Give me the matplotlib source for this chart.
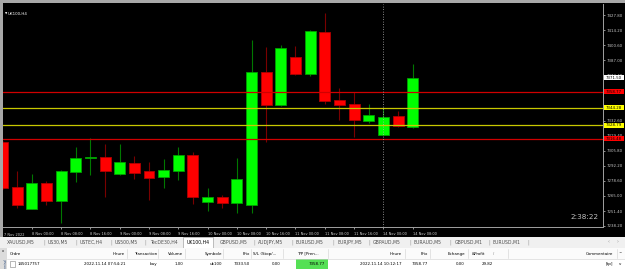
import numpy as np
import matplotlib
matplotlib.use("Agg")
import matplotlib.pyplot as plt
from matplotlib.patches import Rectangle

W, H = 625, 269

# UK100 H4 bars, 7 Nov 16:00 -> 14 Nov 08:00
opens = [7313.9, 7273.1, 7253.6, 7276.7, 7260.5, 7286.6, 7299.6, 7300.1, 7285.1, 7294.7,
         7287.5, 7281.8, 7287.8, 7301.6, 7259.4, 7264.1, 7259.0, 7256.9, 7376.3, 7346.6,
         7389.8, 7375.0, 7412.8, 7351.6, 7347.8, 7332.7, 7319.9, 7337.0, 7327.1]
highs = [7314.6, 7287.5, 7285.1, 7278.5, 7288.3, 7308.8, 7317.2, 7312.1, 7311.8, 7301.3,
         7295.6, 7298.3, 7309.1, 7304.6, 7272.2, 7265.9, 7299.5, 7405.3, 7399.3, 7400.8,
         7400.2, 7414.3, 7429.3, 7362.4, 7358.6, 7348.0, 7344.4, 7341.2, 7384.0]
lows = [7271.0, 7254.5, 7253.0, 7256.9, 7241.0, 7277.6, 7284.2, 7264.4, 7284.2, 7280.3,
        7261.4, 7272.5, 7279.1, 7257.6, 7251.5, 7254.5, 7250.0, 7249.7, 7313.6, 7345.8,
        7373.6, 7373.2, 7347.5, 7333.6, 7318.1, 7330.4, 7319.5, 7327.1, 7326.5]
closes = [7272.5, 7256.9, 7276.7, 7260.3, 7287.5, 7299.5, 7300.0, 7287.8, 7295.3, 7286.0,
          7281.5, 7288.1, 7301.9, 7263.9, 7264.1, 7258.5, 7280.3, 7376.5, 7347.1, 7398.1,
          7375.0, 7413.4, 7350.7, 7346.9, 7333.6, 7337.6, 7336.3, 7327.7, 7371.5]

first_label = "7 Nov 2022"
xtick_bars = [2, 4, 6, 8, 10, 12, 14, 16, 18, 20, 22, 24, 26, 28]
xtick_labels = ["8 Nov 00:00", "8 Nov 08:00", "8 Nov 16:00", "9 Nov 00:00", "9 Nov 08:00",
                "9 Nov 16:00", "10 Nov 00:00", "10 Nov 08:00", "10 Nov 16:00", "11 Nov 00:00",
                "11 Nov 08:00", "11 Nov 16:00", "14 Nov 00:00", "14 Nov 08:00"]
# scale labels that are not hidden behind the price boxes
ytick_vals = [7427.80, 7414.20, 7400.60, 7387.00, 7373.40, 7332.60,
              7319.40, 7305.80, 7292.20, 7278.60, 7265.00, 7251.40, 7238.20]

red_levels = [7358.77, 7316.48]
yellow_levels = [7344.28, 7328.79]
current_price = 7371.50
vline_bar = 26

tabs = ["XAUUSD,M5", "US30,M5", "USTEC,H4", "US500,M5", "TecDE30,H4", "UK100,H4",
        "GBPUSD,M5", "AUDJPY,M5", "EURUSD,M5", "EURJPY,M5", "GBPAUD,M5", "EURAUD,M5",
        "GBPUSD,M1", "EURUSD,M1"]
headers = ["Ordre", "Heure", "Transaction", "Volume", "Symbole", "Prix", "S/L (Stop/...",
           "T/P [Pren...", "Heure", "Prix", "Echange", "&Profit", "Commentaire"]
row = ["145017757", "2022.11.14 07:54:21", "buy", "1.00", "uk100", "7333.50", "0.00",
       "7358.77", "2022.11.14 10:12:17", "7358.77", "0.00", "29.82", "[tp]"]


def fx(x):
    return x / W


def fy(y):
    return 1 - y / H


fig = plt.figure(figsize=(W / 100, H / 100), dpi=100, facecolor="black")

# chart
ax = fig.add_axes([fx(3), fy(227), 600 / W, 223 / H], facecolor="black")
o, h, l, c = map(np.array, (opens, highs, lows, closes))
idx = np.arange(len(o))
up = c >= o
dn = ~up
ax.vlines(idx[up], l[up], h[up], color="#007800", lw=0.8, zorder=2)
ax.vlines(idx[dn], l[dn], h[dn], color="#7a0000", lw=0.8, zorder=2)
ax.bar(idx[up], (c - o)[up], bottom=o[up], width=0.75, color="#00ff00",
       edgecolor="#00a000", lw=0.6, zorder=3)
ax.bar(idx[dn], (c - o)[dn], bottom=o[dn], width=0.75, color="#ff0000",
       edgecolor="#b00000", lw=0.6, zorder=3)

for lv in red_levels:
    ax.axhline(lv, color="#d00000", lw=0.9, zorder=4)
for lv in yellow_levels:
    ax.axhline(lv, color="#c8c800", lw=0.9, zorder=4)
ax.axvline(vline_bar, color="#b0b0b0", lw=0.6, ls=(0, (1, 2)), zorder=4)

ax.set_xlim(0.034, 40.99)
ax.set_ylim(7237.1, 7437.7)

for s in ["left", "top"]:
    ax.spines[s].set_visible(False)
for s in ["right", "bottom"]:
    ax.spines[s].set_color("#a0a0a0")
    ax.spines[s].set_linewidth(0.7)

ax.yaxis.tick_right()
ax.set_yticks(ytick_vals)
ax.set_yticklabels([f"{v:.2f}" for v in ytick_vals])
ax.tick_params(axis="y", labelsize=2.8, colors="#c8c8c8", length=1.5, width=0.5, pad=0.8)
ax.set_xticks(xtick_bars)
ax.set_xticklabels(xtick_labels)
ax.tick_params(axis="x", labelsize=2.5, colors="#d0d0d0", length=1.5, width=0.5, pad=1.8)
for lab in ax.get_xticklabels():
    lab.set_horizontalalignment("left")
ax.text(0.002, -0.025, first_label, transform=ax.transAxes, fontsize=2.5,
        color="#d0d0d0", ha="left", va="top")

# price boxes on the right scale
ytr = ax.get_yaxis_transform()
boxes = [(current_price, "white")] + [(v, "#ff0000") for v in red_levels] + \
        [(v, "#ffff00") for v in yellow_levels]
for price, col in boxes:
    ax.add_patch(Rectangle((1.0017, price - 2.3), 0.0333, 4.6, transform=ytr,
                           facecolor=col, edgecolor="none", clip_on=False, zorder=6))
    ax.text(1.018, price, f"{price:.2f}", transform=ytr, fontsize=2.8, color="black",
            ha="center", va="center", clip_on=False, zorder=7)

ax.text(0.003, 0.955, "\u25bc", transform=ax.transAxes, fontsize=2.2, color="white",
        ha="left", va="center")
ax.text(0.0085, 0.955, "UK100,H4", transform=ax.transAxes, fontsize=2.9, color="white",
        ha="left", va="center")
ax.text(0.993, 0.03, "2:38:22", transform=ax.transAxes, fontsize=5.2, color="#c0c0c0",
        ha="right", va="bottom")


def rect(x0, y0, x1, y1, fc, ec="none", lw=0):
    fig.add_artist(Rectangle((fx(x0), fy(y1)), (x1 - x0) / W, (y1 - y0) / H,
                             transform=fig.transFigure, facecolor=fc, edgecolor=ec,
                             lw=lw))


def txt(x, y, s, size=2.9, ha="left", color="black", **kw):
    fig.text(fx(x), fy(y), s, fontsize=size, ha=ha, va="center", color=color, **kw)


# window frame
rect(0, 0, W, 3, "#a8a8a8")
rect(0, 0, 3, 237, "#a8a8a8")

# symbol tabs
rect(0, 237, W, 248, "#f0f0f0")
rect(183, 237, 213, 247.5, "white", ec="#909090", lw=0.4)
tab_x = [7, 48, 80, 115, 150, 187, 220, 258, 295, 337, 373, 413, 455, 493]
sep_x = [43, 75, 110, 144, 253, 291, 332, 368, 409, 449, 488, 527]
for x, name in zip(tab_x, tabs):
    txt(x, 242.3, name, size=3.3, color="#505050" if name != "UK100,H4" else "black")
for x in sep_x:
    txt(x, 242.3, "|", size=3.3, color="#909090")
txt(608, 242.3, "\u2039", size=3.3, color="#909090")
txt(617, 242.3, "\u203a", size=3.3, color="#909090")

# trade table
rect(0, 248, W, 258.5, "#fbfbfb")
rect(0, 258.5, W, H, "white")
rect(0, 248, 7, H, "#dcdcdc")
txt(1.5, 251.5, "x", size=2.5)
txt(3.5, 264, "Terminal", size=2.0, rotation=90, color="#305080")
fig.add_artist(plt.Line2D([fx(7), 1], [fy(258.5), fy(258.5)], transform=fig.transFigure,
                          color="#d0d0d0", lw=0.4))
for x in [127, 158, 185, 223, 251, 283, 328, 405, 430, 468, 508, 617]:
    fig.add_artist(plt.Line2D([fx(x), fx(x)], [fy(249), fy(258)], transform=fig.transFigure,
                              color="#d0d0d0", lw=0.4))

head_pos = [(10, "left"), (125, "right"), (157, "right"), (183, "right"), (222, "right"),
            (250, "right"), (253, "left"), (297, "left"), (402, "right"), (428, "right"),
            (465, "right"), (472, "left"), (613, "right")]
for (x, ha), s in zip(head_pos, headers):
    txt(x, 253.8, s, ha=ha)
txt(493, 253.8, "/", size=2.5, color="#707070")
txt(619, 253.8, "^", size=2.9)

rect(296, 259, 328, H, "#55e055")
rect(10, 261, 15, 267, "white", ec="#808080", lw=0.4)
row_pos = [(18, "left"), (125, "right"), (157, "right"), (183, "right"), (222, "right"),
           (250, "right"), (281, "right"), (325, "right"), (402, "right"), (428, "right"),
           (465, "right"), (493, "right"), (613, "right")]
for (x, ha), s in zip(row_pos, row):
    txt(x, 264, s, ha=ha)
txt(619, 264, "v", size=2.9)

fig.savefig("out.png", dpi=100, facecolor=fig.get_facecolor())
